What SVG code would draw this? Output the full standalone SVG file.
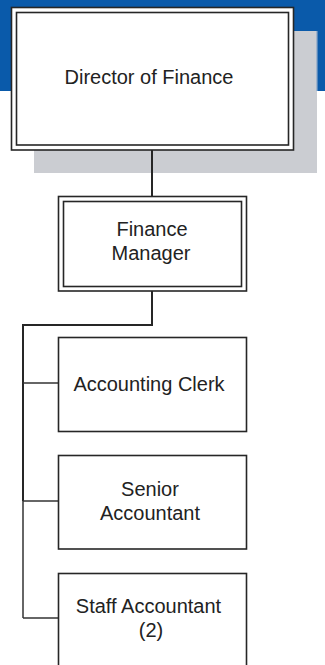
<svg xmlns="http://www.w3.org/2000/svg" width="325" height="665" viewBox="0 0 325 665">
  <style>
    .box { fill: #ffffff; stroke: #262626; stroke-width: 1.6; }
    .inner { fill: none; stroke: #262626; stroke-width: 1.6; }
    .lbl { font-family: "Liberation Sans", Arial, sans-serif; font-size: 20px; fill: #222222; text-anchor: middle; }
    .conn { fill: none; stroke: #262626; stroke-width: 2; }
    .conn-thin { fill: none; stroke: #333333; stroke-width: 1.5; }
  </style>

  <!-- page backdrop: blue header band and grey shadow panel -->
  <rect x="0" y="0" width="325" height="91" fill="#0a5aaa"/>
  <rect x="34" y="31" width="283" height="142" fill="#cbcdd2"/>
  <rect x="316" y="31" width="1.5" height="60" fill="#9fb3cc"/>

  <!-- connectors -->
  <g id="connectors">
    <line class="conn" x1="152" y1="150" x2="152" y2="196"/>
    <polyline class="conn" points="152,291 152,325 23,325 23,501"/>
    <line class="conn-thin" x1="23" y1="501" x2="23" y2="618"/>
    <line class="conn-thin" x1="23" y1="383" x2="58" y2="383"/>
    <line class="conn-thin" x1="23" y1="501" x2="58" y2="501"/>
    <line class="conn-thin" x1="23" y1="618" x2="58" y2="618"/>
  </g>

  <g id="director">
    <rect class="box" x="11.5" y="7.5" width="282" height="142.5"/>
    <rect class="inner" x="16.5" y="12.5" width="272" height="132.5"/>
    <text class="lbl" x="149" y="84" font-size="20.5">Director of Finance</text>
  </g>

  <g id="finance-manager">
    <rect class="box" x="58.5" y="196.5" width="188" height="94.5"/>
    <rect class="inner" x="63.5" y="201.5" width="178" height="85"/>
    <text class="lbl" x="152" y="236">Finance</text>
    <text class="lbl" x="151" y="260">Manager</text>
  </g>

  <g id="accounting-clerk">
    <rect class="box" x="58.5" y="337.5" width="188" height="94"/>
    <text class="lbl" x="149" y="391">Accounting Clerk</text>
  </g>

  <g id="senior-accountant">
    <rect class="box" x="58.5" y="455.5" width="188" height="93.5"/>
    <text class="lbl" x="150" y="496">Senior</text>
    <text class="lbl" x="150" y="520">Accountant</text>
  </g>

  <g id="staff-accountant">
    <rect class="box" x="58.5" y="573.5" width="188" height="100"/>
    <text class="lbl" x="148.5" y="613">Staff Accountant</text>
    <text class="lbl" x="151" y="637">(2)</text>
  </g>
</svg>
